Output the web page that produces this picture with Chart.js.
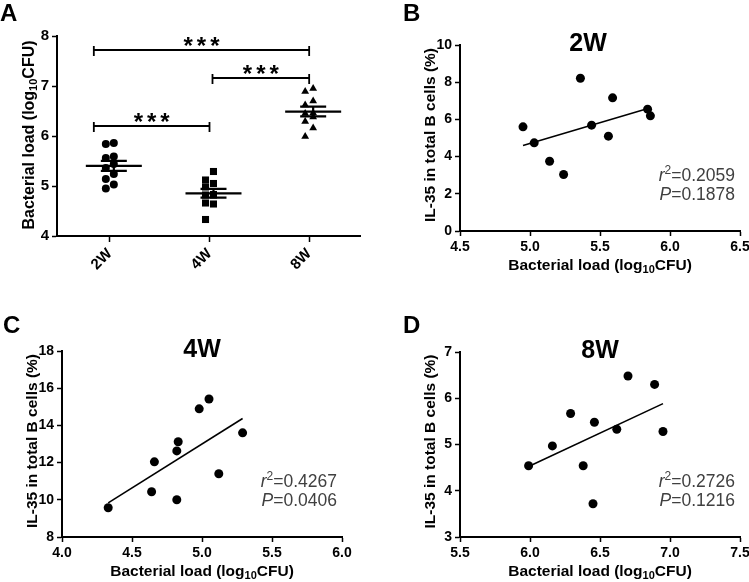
<!DOCTYPE html>
<html>
<head>
<meta charset="utf-8">
<script src="https://cdn.jsdelivr.net/npm/chart.js@4.4.1/dist/chart.umd.min.js"></script>
<style>
    body { margin: 0; background: #fff; width: 749px; height: 582px; overflow: hidden; position: relative; }
    .panel { position: absolute; }
    .letter { position: absolute; font: bold 24px "Liberation Sans", Arial, sans-serif; color: #000; }
</style>
</head>
<body>
<canvas id="chartA" class="panel" width="370" height="290" style="left:0;top:0"></canvas>
<canvas id="chartB" class="panel" width="379" height="290" style="left:370px;top:0"></canvas>
<canvas id="chartC" class="panel" width="370" height="292" style="left:0;top:290px"></canvas>
<canvas id="chartD" class="panel" width="379" height="292" style="left:370px;top:290px"></canvas>
<div class="letter" style="left:0;top:-1px">A</div>
<div class="letter" style="left:403px;top:-1px">B</div>
<div class="letter" style="left:3px;top:311px">C</div>
<div class="letter" style="left:403px;top:311px">D</div>
<script>
// data
const groups = ["2W", "4W", "8W"]

// bacterial load (log10 CFU) per mouse, same values in A and on the x axis of B/C/D
const load2W = [4.95, 5.03, 5.14, 5.24, 5.36, 5.44, 5.56, 5.59, 5.84, 5.86]
const load4W = [4.33, 4.64, 4.66, 4.82, 4.82, 4.83, 4.98, 5.05, 5.12, 5.29]
const load8W = [5.99, 6.16, 6.29, 6.38, 6.45, 6.46, 6.62, 6.70, 6.89, 6.95]

// IL-35+ in total B cells (%)
const il35_2W = [5.60, 4.74, 3.75, 3.04, 8.21, 5.69, 5.10, 7.16, 6.55, 6.19]
const il35_4W = [9.57, 10.43, 12.04, 10.00, 12.63, 13.12, 14.89, 15.42, 11.40, 13.60]
const il35_8W = [4.54, 4.97, 5.67, 4.54, 3.72, 5.48, 5.33, 6.48, 6.30, 5.28]

const r2Values = ["0.2059", "0.4267", "0.2726"]
const pValues = ["0.1878", "0.0406", "0.1216"]

// significance brackets in A: from group, to group, height (log10 CFU), label
const sigFrom = [1, 2, 1]
const sigTo = [2, 3, 3]
const sigLevel = [6.2, 7.16, 7.72]
const sigLabel = ["***", "***", "***"]

const FONT = '"Liberation Sans", Arial, sans-serif'
Chart.defaults.font.family = FONT
Chart.defaults.color = '#000'

function mean(arr) {
    return arr.reduce((a, b) => a + b, 0) / arr.length
}

function sem(arr) {
    const m = mean(arr)
    const v = arr.reduce((a, b) => a + (b - m) * (b - m), 0) / (arr.length - 1)
    return Math.sqrt(v / arr.length)
}

// least squares line over the range of x
function fitLine(xs, ys) {
    const mx = mean(xs), my = mean(ys)
    let sxy = 0, sxx = 0
    xs.forEach((x, i) => {
        sxy += (x - mx) * (ys[i] - my)
        sxx += (x - mx) * (x - mx)
    })
    const slope = sxy / sxx
    const x0 = Math.min(...xs), x1 = Math.max(...xs)
    return [{ x: x0, y: my + slope * (x0 - mx) }, { x: x1, y: my + slope * (x1 - mx) }]
}

// text with italic / sub / superscript pieces, y is the middle of the capitals
function drawRich(ctx, segs, x, y, size, opts) {
    opts = opts || {}
    const weight = opts.weight || 'normal'
    const fontFor = s => (s.italic ? 'italic ' : '') + weight + ' ' +
        ((s.sub || s.sup) ? Math.round(size * 0.68) : size) + 'px ' + FONT
    let total = 0
    const widths = segs.map(s => {
        ctx.font = fontFor(s)
        const w = ctx.measureText(s.t).width
        total += w
        return w
    })
    ctx.save()
    ctx.translate(x, y)
    if (opts.rotate) ctx.rotate(opts.rotate)
    ctx.fillStyle = opts.color || '#000'
    ctx.textBaseline = 'alphabetic'
    ctx.textAlign = 'left'
    let cx = opts.align === 'right' ? -total : (opts.align === 'left' ? 0 : -total / 2)
    segs.forEach((s, i) => {
        ctx.font = fontFor(s)
        let dy = size * 0.36
        if (s.sub) dy += size * 0.22
        if (s.sup) dy -= size * 0.4
        ctx.fillText(s.t, cx, dy)
        cx += widths[i]
    })
    ctx.restore()
}

const loadTitle = [{ t: "Bacterial load (log" }, { t: "10", sub: true }, { t: "CFU)" }]
const il35Title = [{ t: "IL-35 in total B cells (%)" }]

// fixes the axis box so the plot area lands where the figure has it
function fixedAxis(size) {
    return function (scale) {
        if (scale.isHorizontal()) scale.height = size
        else scale.width = size
        scale.paddingLeft = 0
        scale.paddingRight = 0
        scale.paddingTop = 0
        scale.paddingBottom = 0
    }
}

function axisStyle(min, max, step, boxSize, fontSize, fmt) {
    return {
        type: 'linear',
        min: min,
        max: max,
        afterFit: fixedAxis(boxSize),
        grid: { display: true, drawOnChartArea: false, drawTicks: true, tickLength: 5, tickWidth: 1.5, tickColor: '#000' },
        border: { display: true, color: '#000', width: 2 },
        ticks: {
            stepSize: step,
            color: '#000',
            padding: 3,
            font: { size: fontSize, weight: 'bold' },
            callback: fmt
        }
    }
}

const scatterText = {
    id: 'scatterText',
    afterDraw(chart, args, o) {
        const ctx = chart.ctx, a = chart.chartArea
        drawRich(ctx, [{ t: o.title }], (a.left + a.right) / 2 + o.titleShift, a.top - 3, 25, { weight: 'bold' })
        drawRich(ctx, [{ t: "r", italic: true }, { t: "2", sup: true }, { t: "=" + o.r2 }],
            a.right - 5, a.bottom - 56, 17.5, { align: 'right', color: '#404040' })
        drawRich(ctx, [{ t: "P", italic: true }, { t: "=" + o.p }],
            a.right - 5, a.bottom - 37, 17.5, { align: 'right', color: '#404040' })
        drawRich(ctx, loadTitle, (a.left + a.right) / 2, a.bottom + 33, 15.5, { weight: 'bold' })
        drawRich(ctx, il35Title, a.left - 31, (a.top + a.bottom) / 2 - 3, 15.5, { weight: 'bold', rotate: -Math.PI / 2 })
    }
}

function scatterPanel(canvasId, load, il35, cfg) {
    const ctx = document.getElementById(canvasId).getContext('2d')
    return new Chart(ctx, {
        type: 'scatter',
        data: {
            datasets: [
                {
                    type: 'line',
                    data: fitLine(load, il35),
                    borderColor: '#000',
                    borderWidth: 1.6,
                    pointRadius: 0,
                    fill: false
                },
                {
                    data: load.map((x, i) => ({ x: x, y: il35[i] })),
                    backgroundColor: '#000',
                    borderWidth: 0,
                    pointRadius: 4.5,
                    pointHoverRadius: 4.5
                }
            ]
        },
        options: {
            responsive: false,
            animation: false,
            events: [],
            layout: { padding: { left: 0, top: cfg.top, right: cfg.right, bottom: 0 } },
            plugins: {
                legend: { display: false },
                tooltip: { enabled: false },
                scatterText: { title: cfg.title, titleShift: cfg.titleShift, r2: cfg.r2, p: cfg.p }
            },
            scales: {
                x: axisStyle(cfg.xMin, cfg.xMax, 0.5, cfg.xBox, 14, v => v.toFixed(1)),
                y: axisStyle(cfg.yMin, cfg.yMax, cfg.yStep, cfg.yBox, 14, v => v)
            }
        },
        plugins: [scatterText]
    })
}

// panel A: mean +/- SEM, brackets, axis title
const groupMarks = {
    id: 'groupMarks',
    afterDatasetsDraw(chart) {
        const ctx = chart.ctx, xs = chart.scales.x, ys = chart.scales.y
        const sets = [load2W, load4W, load8W]
        ctx.save()
        ctx.strokeStyle = '#000'
        ctx.lineWidth = 2.2
        sets.forEach((vals, g) => {
            const cx = xs.getPixelForValue(g + 1) + 4
            const m = mean(vals), s = sem(vals)
            const yM = ys.getPixelForValue(m), yHi = ys.getPixelForValue(m + s), yLo = ys.getPixelForValue(m - s)
            ctx.beginPath()
            ctx.moveTo(cx - 28, yM); ctx.lineTo(cx + 28, yM)
            ctx.moveTo(cx - 13, yHi); ctx.lineTo(cx + 13, yHi)
            ctx.moveTo(cx - 13, yLo); ctx.lineTo(cx + 13, yLo)
            ctx.moveTo(cx, yHi); ctx.lineTo(cx, yLo)
            ctx.stroke()
        })
        ctx.restore()
    },
    afterDraw(chart) {
        const ctx = chart.ctx, xs = chart.scales.x, ys = chart.scales.y
        ctx.save()
        ctx.strokeStyle = '#000'
        ctx.lineWidth = 1.8
        sigLevel.forEach((lvl, i) => {
            const x0 = xs.getPixelForValue(sigFrom[i]) + (sigFrom[i] === 1 ? -16 : 3)
            const x1 = xs.getPixelForValue(sigTo[i])
            const y = ys.getPixelForValue(lvl)
            ctx.beginPath()
            ctx.moveTo(x0, y); ctx.lineTo(x1, y)
            ctx.moveTo(x0, y - 4); ctx.lineTo(x0, y + 6)
            ctx.moveTo(x1, y - 4); ctx.lineTo(x1, y + 6)
            ctx.stroke()
            ctx.fillStyle = '#000'
            ctx.font = 'bold 24px ' + FONT
            ctx.letterSpacing = '4px'
            ctx.textAlign = 'center'
            ctx.textBaseline = 'alphabetic'
            ctx.fillText(sigLabel[i], (x0 + x1) / 2 + 2, y + 4)
        })
        ctx.restore()
        const a = chart.chartArea
        drawRich(ctx, loadTitle, a.left - 29, (a.top + a.bottom) / 2 - 1, 16, { weight: 'bold', rotate: -Math.PI / 2 })
    }
}

// points sit in two columns around the group position
function spread(vals, g) {
    return vals.map((v, i) => ({ x: g + (i % 2 === 0 ? -0.04 : 0.04), y: v }))
}

const chartA = new Chart(document.getElementById('chartA').getContext('2d'), {
    type: 'scatter',
    data: {
        datasets: [
            { data: spread(load2W, 1), pointStyle: 'circle', pointRadius: 4, backgroundColor: '#000', borderWidth: 0 },
            { data: spread(load4W, 2), pointStyle: 'rect', pointRadius: 5, backgroundColor: '#000', borderWidth: 0 },
            { data: spread(load8W, 3), pointStyle: 'triangle', pointRadius: 4.5, backgroundColor: '#000', borderWidth: 0 }
        ]
    },
    options: {
        responsive: false,
        animation: false,
        events: [],
        layout: { padding: { left: 0, top: 36, right: 10, bottom: 0 } },
        plugins: { legend: { display: false }, tooltip: { enabled: false } },
        scales: {
            x: Object.assign(axisStyle(0.47, 3.51, 1, 54, 15, v => groups[v - 1] || ''), {
                afterBuildTicks: s => { s.ticks = [{ value: 1 }, { value: 2 }, { value: 3 }] }
            }),
            y: axisStyle(4, 8, 1, 57, 15, v => v)
        }
    },
    plugins: [groupMarks]
})
chartA.options.scales.x.ticks.minRotation = 45
chartA.options.scales.x.ticks.maxRotation = 45
chartA.options.scales.x.grid.tickLength = 6
chartA.update()

scatterPanel('chartB', load2W, il35_2W, {
    title: groups[0], titleShift: -12, r2: r2Values[0], p: pValues[0],
    xMin: 4.5, xMax: 6.5, yMin: 0, yMax: 10, yStep: 2,
    top: 45, right: 9, xBox: 59, yBox: 90
})
scatterPanel('chartC', load4W, il35_4W, {
    title: groups[1], titleShift: 0, r2: r2Values[1], p: pValues[1],
    xMin: 4.0, xMax: 6.0, yMin: 8, yMax: 18, yStep: 2,
    top: 61, right: 28, xBox: 45, yBox: 62
})
scatterPanel('chartD', load8W, il35_8W, {
    title: groups[2], titleShift: 0, r2: r2Values[2], p: pValues[2],
    xMin: 5.5, xMax: 7.5, yMin: 3, yMax: 7, yStep: 1,
    top: 62, right: 9, xBox: 45, yBox: 90
})
</script>
</body>
</html>
